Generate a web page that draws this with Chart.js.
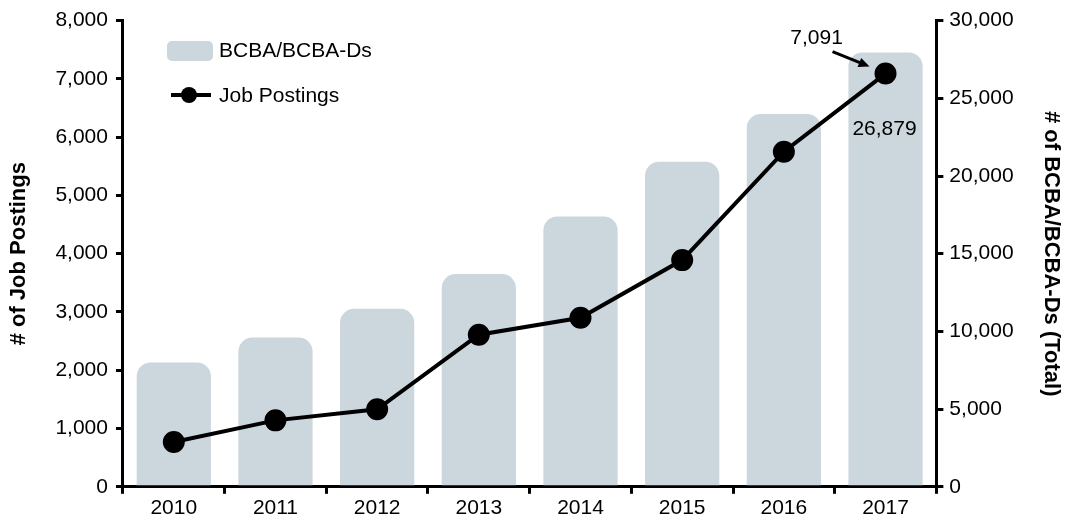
<!DOCTYPE html>
<html>
<head>
<meta charset="utf-8">
<script src="https://cdn.jsdelivr.net/npm/chart.js@4.4.0/dist/chart.umd.min.js"></script>
<style>
  html, body { margin: 0; padding: 0; background: #fff; }
  #wrap { width: 1070px; height: 523px; position: relative; }
</style>
</head>
<body>
<div id="wrap"><canvas id="chart"></canvas></div>
<script>
'use strict';

const years = ["2010", "2011", "2012", "2013", "2014", "2015", "2016", "2017"];
const bcbaTotals = [8000, 9600, 11450, 13690, 17400, 20920, 23990, 27950];
const jobPostings = [770, 1140, 1330, 2610, 2900, 3890, 5750, 7091];
const leftTicks = [0, 1000, 2000, 3000, 4000, 5000, 6000, 7000, 8000];
const rightTicks = [0, 5000, 10000, 15000, 20000, 25000, 30000];
const bcbaLabel = 26879;

const barColor = "#cbd6dd";
const font = "'Liberation Sans', Arial, sans-serif";

function fmt(v){
    return v.toLocaleString('en-US');
}

// legend + callouts drawn by hand
const extras = {
    id: 'extras',
    afterDatasetsDraw(chart){
        const c = chart.ctx;
        c.save();
        c.font = "21px " + font;
        c.fillStyle = "#000";
        c.textBaseline = "middle";

        // legend
        c.fillStyle = barColor;
        c.beginPath();
        c.roundRect(167, 41, 46, 20, 5);
        c.fill();
        c.fillStyle = "#000";
        c.fillText("BCBA/BCBA-Ds", 219, 51);

        c.strokeStyle = "#000";
        c.lineWidth = 4;
        c.beginPath();
        c.moveTo(171, 95);
        c.lineTo(211, 95);
        c.stroke();
        c.beginPath();
        c.arc(189, 95, 8, 0, Math.PI * 2);
        c.fill();
        c.fillText("Job Postings", 219, 96);

        // callouts on the last year
        const x = chart.scales.x;
        const yl = chart.scales.y;
        const last = years.length - 1;
        const px = x.getPixelForValue(last);
        const py = yl.getPixelForValue(jobPostings[last]);

        c.textAlign = "center";
        c.fillText(fmt(jobPostings[last]), px - 69, py - 35);
        c.fillText(fmt(bcbaLabel), px - 1, py + 56);

        // arrow
        const ax0 = px - 53, ay0 = py - 22, ax1 = px - 16, ay1 = py - 7;
        c.lineWidth = 3;
        c.beginPath();
        c.moveTo(ax0, ay0);
        c.lineTo(ax1 - 6, ay1 - 2.5);
        c.stroke();
        const ang = Math.atan2(ay1 - ay0, ax1 - ax0);
        c.beginPath();
        c.moveTo(ax1, ay1);
        c.lineTo(ax1 - 12 * Math.cos(ang - 0.42), ay1 - 12 * Math.sin(ang - 0.42));
        c.lineTo(ax1 - 12 * Math.cos(ang + 0.42), ay1 - 12 * Math.sin(ang + 0.42));
        c.closePath();
        c.fill();
        c.restore();
    }
};

const axisFont = { family: font, size: 21 };
const titleFont = { family: font, size: 22, weight: 'bold' };

new Chart(document.getElementById('chart'), {
    data: {
        labels: years,
        datasets: [{
            type: 'line',
            label: 'Job Postings',
            data: jobPostings,
            yAxisID: 'y',
            borderColor: '#000',
            backgroundColor: '#000',
            borderWidth: 4,
            pointRadius: 9,
            pointHoverRadius: 9,
            pointBackgroundColor: '#000',
            tension: 0,
            order: 1
        }, {
            type: 'bar',
            label: 'BCBA/BCBA-Ds',
            data: bcbaTotals,
            yAxisID: 'y1',
            backgroundColor: barColor,
            borderRadius: { topLeft: 14, topRight: 14 },
            borderSkipped: 'bottom',
            barPercentage: 0.73,
            categoryPercentage: 1,
            order: 2
        }]
    },
    options: {
        responsive: true,
        maintainAspectRatio: false,
        animation: false,
        layout: { padding: { left: 4, right: 0, top: 4, bottom: 0 } },
        plugins: {
            legend: { display: false },
            tooltip: { enabled: false }
        },
        scales: {
            x: {
                offset: true,
                grid: { display: true, drawOnChartArea: false, offset: true, color: '#000', lineWidth: 3, tickLength: 7 },
                border: { display: true, color: '#000', width: 3 },
                ticks: { color: '#000', font: axisFont, padding: 2, maxRotation: 0 }
            },
            y: {
                position: 'left',
                min: 0,
                max: 8000,
                afterBuildTicks(s){ s.ticks = leftTicks.map(v => ({ value: v })); },
                grid: { display: true, drawOnChartArea: false, color: '#000', lineWidth: 3, tickLength: 7 },
                border: { display: true, color: '#000', width: 3 },
                ticks: { color: '#000', font: axisFont, padding: 8, callback: v => fmt(v) },
                title: { display: true, text: '# of Job Postings', color: '#000', font: titleFont, padding: { top: 2, bottom: 15 } }
            },
            y1: {
                position: 'right',
                min: 0,
                max: 30000,
                afterBuildTicks(s){ s.ticks = rightTicks.map(v => ({ value: v })); },
                grid: { display: true, drawOnChartArea: false, color: '#000', lineWidth: 3, tickLength: 7 },
                border: { display: true, color: '#000', width: 3 },
                ticks: { color: '#000', font: axisFont, padding: 6, callback: v => fmt(v) },
                title: { display: true, text: '# of BCBA/BCBA-Ds (Total)', color: '#000', font: titleFont, padding: { top: 6, bottom: 18 } }
            }
        }
    },
    plugins: [extras]
});
</script>
</body>
</html>
